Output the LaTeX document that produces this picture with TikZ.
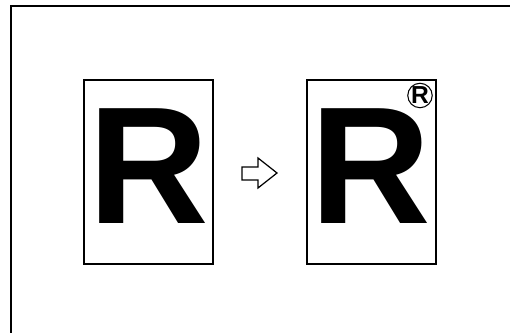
\documentclass[tikz,border=0pt]{standalone}
\usepackage{fontspec}
\setmainfont{Liberation Sans}
\usepackage{tikz}
\usetikzlibrary{positioning}
\tikzset{page/.style={draw,line width=0.7pt,minimum width=2.58cm,minimum height=3.68cm,inner sep=0pt},
         bigletter/.style={inner sep=0pt,font=\fontsize{95}{95}\selectfont\bfseries},
         regmark/.style={draw,circle,line width=0.6pt,minimum size=0.46cm,inner sep=0pt,font=\fontsize{14}{14}\selectfont\bfseries}}

\begin{document}
\begin{tikzpicture}[x=0.02cm,y=-0.02cm]
                \useasboundingbox (0,0) rectangle (510,333);
                \draw[line width=0.8pt] (11,333) -- (11,6) -- (510,6);
                \node[page] (orig) at (148.5,172) {};
                \node[page] (copy) at (371.5,172) {};
                \node[bigletter,anchor=base] (origR) at (149,224) {R};
                \node[bigletter,anchor=base] (copyR) at (371,224) {R};
                \node[regmark] (stamp) at (420,95.5) {R};
                \draw[line width=0.7pt] (242,167) -- (258,167) -- (258,158) -- (277,173)
                    -- (258,188) -- (258,180) -- (242,180) -- cycle;
            \end{tikzpicture}
\end{document}
